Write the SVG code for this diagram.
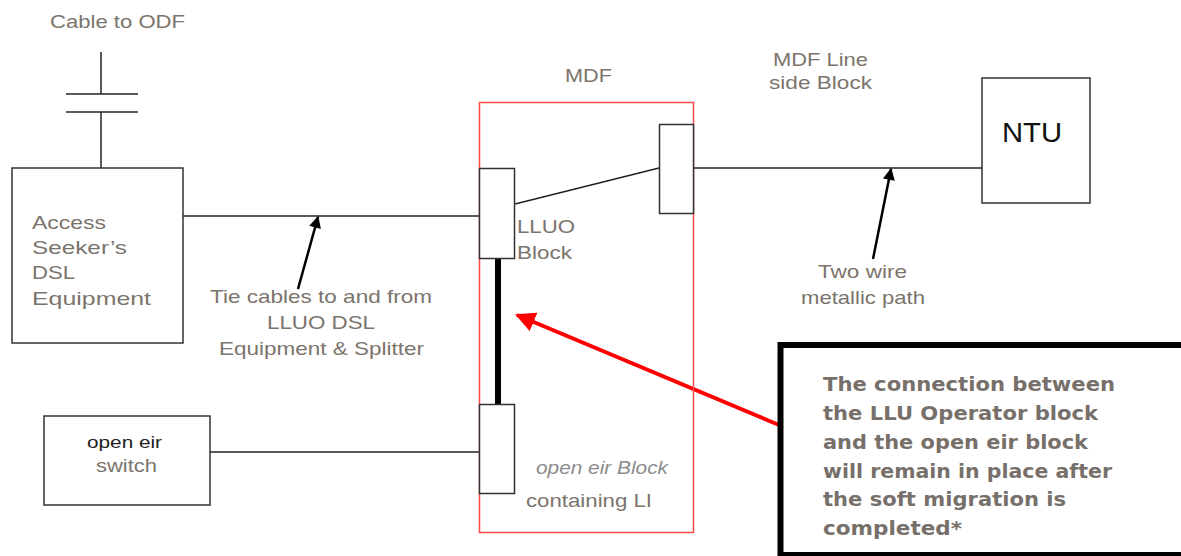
<svg xmlns="http://www.w3.org/2000/svg" width="1181" height="556" viewBox="0 0 1181 556">
<defs>
<style>
.t{font-family:"Liberation Sans",Arial,sans-serif;fill:#7b746c;font-size:19px}
.box{fill:#fff;stroke:#333;stroke-width:1.5}
.ln{fill:none;stroke:#222;stroke-width:1.5}
.cb{font-family:"DejaVu Sans",Verdana,sans-serif;font-weight:bold;fill:#77706a;font-size:19px}
</style>
<marker id="ah" viewBox="0 0 10 10" refX="9" refY="5" markerWidth="14" markerHeight="12" markerUnits="userSpaceOnUse" orient="auto"><path d="M0,0 L10,5 L0,10 z" fill="#000"/></marker>
<marker id="ahr" viewBox="0 0 10 10" refX="9" refY="5" markerWidth="5" markerHeight="5" orient="auto"><path d="M0,0 L10,5 L0,10 z" fill="#ff0000"/></marker>
</defs>
<rect width="1181" height="556" fill="#fff"/>

<g id="connectors">
<line class="ln" x1="101" y1="52" x2="101" y2="94"/>
<line class="ln" x1="66" y1="94" x2="138" y2="94"/>
<line class="ln" x1="66" y1="112" x2="138" y2="112"/>
<line class="ln" x1="101" y1="112" x2="101" y2="168"/>
<line class="ln" x1="183" y1="216" x2="479" y2="216"/>
<line class="ln" x1="515" y1="204" x2="659" y2="168"/>
<line class="ln" x1="694" y1="168" x2="982" y2="168"/>
<line class="ln" x1="210" y1="452" x2="479" y2="452"/>
<line x1="498" y1="259" x2="498" y2="404" stroke="#000" stroke-width="6"/>
<line x1="298" y1="289" x2="318" y2="217" stroke="#000" stroke-width="2.5" marker-end="url(#ah)"/>
<line x1="873" y1="259" x2="891" y2="169" stroke="#000" stroke-width="2.5" marker-end="url(#ah)"/>
<line x1="779" y1="425" x2="517" y2="315" stroke="#ff0000" stroke-width="4" marker-end="url(#ahr)"/>
</g>

<g id="cable-odf">
<text class="t" x="50" y="28" textLength="135" lengthAdjust="spacingAndGlyphs">Cable to ODF</text>
</g>

<g id="access-seeker">
<rect class="box" x="12" y="168" width="171" height="175"/>
<text class="t" font-size="21" x="32" y="229" textLength="74" lengthAdjust="spacingAndGlyphs">Access</text>
<text class="t" font-size="21" x="32" y="254" textLength="95" lengthAdjust="spacingAndGlyphs">Seeker’s</text>
<text class="t" font-size="21" x="32" y="279" textLength="43" lengthAdjust="spacingAndGlyphs">DSL</text>
<text class="t" font-size="21" x="32" y="305" textLength="119" lengthAdjust="spacingAndGlyphs">Equipment</text>
</g>

<g id="tie-label">
<text class="t" x="210" y="303" textLength="222" lengthAdjust="spacingAndGlyphs">Tie cables to and from</text>
<text class="t" x="267" y="329" textLength="108" lengthAdjust="spacingAndGlyphs">LLUO DSL</text>
<text class="t" x="219" y="355" textLength="205" lengthAdjust="spacingAndGlyphs">Equipment &amp; Splitter</text>
</g>

<g id="mdf">
<rect x="479.5" y="102.5" width="214" height="430" fill="none" stroke="#ff4a4a" stroke-width="1.5"/>
<text class="t" x="565" y="82" textLength="47" lengthAdjust="spacingAndGlyphs">MDF</text>
</g>

<g id="lluo-block">
<rect class="box" x="479.5" y="168.5" width="35" height="90"/>
<text class="t" font-size="20" x="517" y="233" textLength="58" lengthAdjust="spacingAndGlyphs">LLUO</text>
<text class="t" font-size="20" x="517" y="259" textLength="55" lengthAdjust="spacingAndGlyphs">Block</text>
</g>

<g id="line-side-block">
<rect class="box" x="659.5" y="124.5" width="34" height="89"/>
<text class="t" x="773" y="66" textLength="95" lengthAdjust="spacingAndGlyphs">MDF Line</text>
<text class="t" x="769" y="89" textLength="103" lengthAdjust="spacingAndGlyphs">side Block</text>
</g>

<g id="ntu">
<rect class="box" x="982" y="78" width="108" height="125"/>
<text x="1002" y="142" font-family="Liberation Sans,Arial,sans-serif" font-size="27" fill="#111" textLength="60" lengthAdjust="spacingAndGlyphs">NTU</text>
</g>

<g id="two-wire-label">
<text class="t" x="818" y="278" textLength="89" lengthAdjust="spacingAndGlyphs">Two wire</text>
<text class="t" x="801" y="304" textLength="124" lengthAdjust="spacingAndGlyphs">metallic path</text>
</g>

<g id="open-eir-switch">
<rect class="box" x="44" y="416" width="166" height="89"/>
<text x="87" y="448" font-family="Liberation Sans,Arial,sans-serif" font-size="17" fill="#222" textLength="75" lengthAdjust="spacingAndGlyphs">open eir</text>
<text class="t" font-size="17" x="96" y="472" textLength="61" lengthAdjust="spacingAndGlyphs">switch</text>
</g>

<g id="open-eir-block">
<rect class="box" x="479.5" y="404.5" width="35" height="89"/>
<text x="536" y="474" font-family="Liberation Sans,Arial,sans-serif" font-style="italic" font-size="19" fill="#8c8c8c" textLength="132" lengthAdjust="spacingAndGlyphs">open eir Block</text>
<text class="t" x="526" y="507" textLength="126" lengthAdjust="spacingAndGlyphs">containing LI</text>
</g>

<g id="callout">
<rect x="780.5" y="345" width="440" height="210" fill="#fff" stroke="#000" stroke-width="6"/>
<text class="cb" x="823" y="391" textLength="292" lengthAdjust="spacingAndGlyphs">The connection between</text>
<text class="cb" x="823" y="420" textLength="275" lengthAdjust="spacingAndGlyphs">the LLU Operator block</text>
<text class="cb" x="823" y="449" textLength="265" lengthAdjust="spacingAndGlyphs">and the open eir block</text>
<text class="cb" x="823" y="478" textLength="289" lengthAdjust="spacingAndGlyphs">will remain in place after</text>
<text class="cb" x="823" y="506" textLength="243" lengthAdjust="spacingAndGlyphs">the soft migration is</text>
<text class="cb" x="823" y="535" textLength="139" lengthAdjust="spacingAndGlyphs">completed*</text>
</g>
</svg>
